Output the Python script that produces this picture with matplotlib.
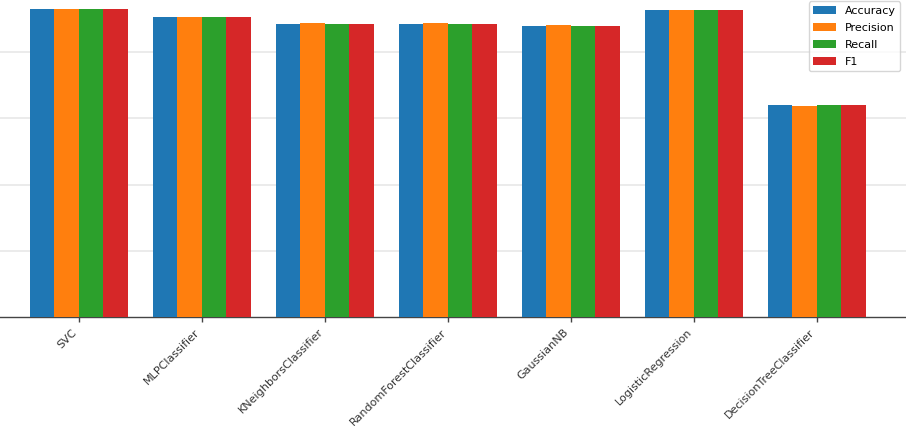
import numpy as np
import matplotlib
matplotlib.use("Agg")
import matplotlib.pyplot as plt

models = ["SVC", "MLPClassifier", "KNeighborsClassifier", "RandomForestClassifier",
          "GaussianNB", "LogisticRegression", "DecisionTreeClassifier"]
accuracy = [0.928, 0.904, 0.882, 0.884, 0.877, 0.925, 0.640]
precision = [0.928, 0.904, 0.887, 0.887, 0.880, 0.925, 0.636]
recall = [0.928, 0.904, 0.882, 0.884, 0.877, 0.925, 0.640]
f1 = [0.928, 0.904, 0.882, 0.884, 0.876, 0.925, 0.640]

series = [("Accuracy", accuracy, "#1f77b4"),
          ("Precision", precision, "#ff7f0e"),
          ("Recall", recall, "#2ca02c"),
          ("F1", f1, "#d62728")]

W, H = 906, 426
fig = plt.figure(figsize=(W / 100, H / 100), dpi=100)
base_px = 317.3
ax = fig.add_axes([0, (H - base_px) / H, 1, base_px / H])

x = np.arange(len(models))
width = 0.2
for i, (name, vals, col) in enumerate(series):
    ax.bar(x + (i - 1.5) * width, vals, width, label=name, color=col, zorder=3)

ax.set_xlim(-0.64, 6.726)
ax.set_ylim(0, base_px / 332.0)
ax.set_yticks([0.2, 0.4, 0.6, 0.8])
ax.yaxis.grid(True, color="#e8e8e8", linewidth=1.2, zorder=0)
ax.tick_params(axis="y", left=False, labelleft=False)
for s in ["left", "top", "right"]:
    ax.spines[s].set_visible(False)
ax.spines["bottom"].set_color("#444444")
ax.spines["bottom"].set_linewidth(1.0)
ax.tick_params(axis="x", color="#444444", length=3.5, width=1.0)

ax.set_xticks(x)
ax.set_xticklabels(models, rotation=45, ha="right", fontsize=8, color="#333333")

ax.legend(loc="lower left", bbox_to_anchor=(809 / W, (H - 71) / H),
          bbox_transform=fig.transFigure, borderaxespad=0, fontsize=8,
          labelspacing=0.62, frameon=True, edgecolor="#cccccc")

fig.savefig("out.png", dpi=100)
